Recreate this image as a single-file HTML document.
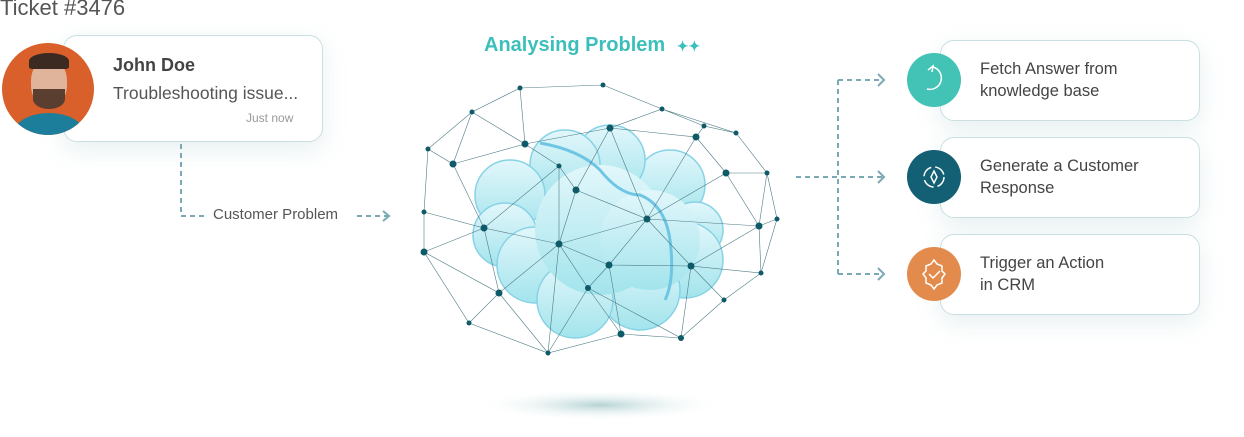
<!DOCTYPE html>
<html><head><meta charset="utf-8"><style>
body{margin:0;width:1244px;height:437px;background:#fff;font-family:"Liberation Sans",sans-serif;position:relative;overflow:hidden}
.t{position:absolute;white-space:nowrap}
.card{position:absolute;background:#fff;border:1px solid #c9dfe2;border-radius:14px;box-shadow:0 8px 24px rgba(120,170,175,.18)}
.ic{position:absolute;width:54px;height:54px;border-radius:50%}
</style></head><body>
<div class="t" style="left:0;top:-5px;font-size:22px;color:#555">Ticket #3476</div>
<div class="card" style="left:63px;top:35px;width:258px;height:105px"></div>
<div style="position:absolute;left:2px;top:43px;width:92px;height:92px;border-radius:50%;background:#d95f2b;overflow:hidden">
 <div style="position:absolute;left:12px;top:70px;width:70px;height:40px;border-radius:50%;background:#1c7e9a"></div>
 <div style="position:absolute;left:29px;top:16px;width:36px;height:48px;border-radius:45%;background:#e0b49a"></div>
 <div style="position:absolute;left:27px;top:10px;width:40px;height:16px;border-radius:50% 50% 10% 10%;background:#3b2a22"></div>
 <div style="position:absolute;left:31px;top:46px;width:32px;height:20px;border-radius:0 0 50% 50%;background:#5a3f30"></div>
</div>
<div class="t" style="left:113px;top:55px;font-size:18px;color:#444;font-weight:bold">John Doe</div>
<div class="t" style="left:113px;top:83px;font-size:17.5px;color:#555">Troubleshooting issue...</div>
<div class="t" style="left:246px;top:111px;font-size:12px;color:#999">Just now</div>
<div class="t" style="left:213px;top:206px;font-size:15px;color:#555">Customer Problem</div>
<div class="t" style="left:484px;top:34px;font-size:20px;color:#3cbfbb;font-weight:bold">Analysing Problem <span style="font-size:14px;margin-left:6px">✦✦</span></div>

<div class="card" style="left:940px;top:40px;width:258px;height:79px"></div>
<div class="card" style="left:940px;top:137px;width:258px;height:79px"></div>
<div class="card" style="left:940px;top:234px;width:258px;height:79px"></div>
<div class="ic" style="left:907px;top:53px;background:#42c3b5"></div>
<div class="ic" style="left:907px;top:150px;background:#135f73"></div>
<div class="ic" style="left:907px;top:247px;background:#e38b4c"></div>
<div class="t" style="left:980px;top:58px;font-size:16.5px;color:#444;line-height:22px">Fetch Answer from<br>knowledge base</div>
<div class="t" style="left:980px;top:155px;font-size:16.5px;color:#444;line-height:22px">Generate a Customer<br>Response</div>
<div class="t" style="left:980px;top:252px;font-size:16.5px;color:#444;line-height:22px">Trigger an Action<br>in CRM</div>

<svg width="1244" height="437" style="position:absolute;left:0;top:0">
<defs><radialGradient id="sh"><stop offset="0" stop-color="#b5d3d4"/><stop offset="1" stop-color="#fff" stop-opacity="0"/></radialGradient>
<linearGradient id="cl" x1="0" y1="0" x2="0" y2="1"><stop offset="0" stop-color="#e2f7fb"/><stop offset="1" stop-color="#a3e4ec"/></linearGradient></defs>
<ellipse cx="600" cy="405" rx="125" ry="16" fill="url(#sh)"/>
<g fill="none" stroke="#7aa9b3" stroke-width="2" stroke-dasharray="5,4">
<path d="M181 144 V216 H205"/><path d="M357 216 H388"/><path d="M383 211 l6 5 -6 5" stroke-dasharray="none"/>
<path d="M796 177 H882"/><path d="M838 80 V274"/><path d="M838 80 H882"/><path d="M838 274 H882"/>
<path d="M878 74 l6 6 -6 6 M878 171 l6 6 -6 6 M878 268 l6 6 -6 6" stroke-dasharray="none"/>
</g>
<g fill="url(#cl)" stroke="#86d2e6" stroke-width="1.5">
<circle cx="670" cy="185" r="35"/><circle cx="695" cy="230" r="28"/><circle cx="685" cy="260" r="38"/><circle cx="640" cy="290" r="40"/>
<circle cx="610" cy="160" r="35"/><circle cx="565" cy="165" r="35"/>
<circle cx="510" cy="195" r="35"/><circle cx="505" cy="235" r="32"/><circle cx="535" cy="265" r="38"/><circle cx="575" cy="300" r="38"/>
<circle cx="600" cy="230" r="65" stroke="none"/><circle cx="650" cy="240" r="50" stroke="none"/>
</g>
<g fill="none" stroke="#6ec6e4" stroke-width="3">
<path d="M540 143 Q580 150 600 170 Q620 195 640 195 Q665 205 670 240 Q675 280 665 300"/>
</g>
<g fill="none" stroke="#4d7b86" stroke-width=".6">
<path d="M520 88L603 85L662 109L736 133L767 173L777 219L761 273L724 300L681 338L621 334L548 353L469 323L424 252L424 212L428 149L472 112L520 88
M520 88L525 144L472 112M472 112L453 164L428 149M453 164L525 144L610 128L662 109L704 126L736 133M610 128L696 137L704 126M696 137L726 173L767 173M525 144L559 166L576 190L610 128
M453 164L484 228L424 212M424 252L484 228L559 166M484 228L559 244L647 219L576 190L559 244M559 166L559 244M610 128L647 219L696 137M647 219L759 226L777 219M726 173L759 226L767 173M647 219L726 173
M759 226L761 273L691 266L759 226M647 219L691 266L609 265L559 244M647 219L609 265L588 288L559 244L499 293L484 228M424 252L499 293L469 323M499 293L548 353L559 244
M588 288L548 353M588 288L621 334L609 265M588 288L681 338L691 266L724 300M691 266L681 338M424 212L428 149"/>
</g>
<g fill="#0f5a68">
<circle cx="520" cy="88" r="2.5"/><circle cx="603" cy="85" r="2.5"/><circle cx="472" cy="112" r="2.5"/><circle cx="662" cy="109" r="2.5"/><circle cx="704" cy="126" r="2.5"/><circle cx="736" cy="133" r="2.5"/><circle cx="428" cy="149" r="2.5"/><circle cx="453" cy="164" r="3.5"/><circle cx="525" cy="144" r="3.5"/><circle cx="610" cy="128" r="3.5"/><circle cx="696" cy="137" r="3.5"/><circle cx="726" cy="173" r="3.5"/><circle cx="767" cy="173" r="2.5"/><circle cx="559" cy="166" r="2.5"/><circle cx="576" cy="190" r="3.5"/><circle cx="647" cy="219" r="3.5"/><circle cx="759" cy="226" r="3.5"/><circle cx="777" cy="219" r="2.5"/><circle cx="424" cy="212" r="2.5"/><circle cx="484" cy="228" r="3.5"/><circle cx="559" cy="244" r="3.5"/><circle cx="609" cy="265" r="3.5"/><circle cx="691" cy="266" r="3.5"/><circle cx="761" cy="273" r="2.5"/><circle cx="424" cy="252" r="3.5"/><circle cx="499" cy="293" r="3.5"/><circle cx="588" cy="288" r="3"/><circle cx="724" cy="300" r="2.5"/><circle cx="621" cy="334" r="3.5"/><circle cx="681" cy="338" r="3"/><circle cx="548" cy="353" r="2.5"/><circle cx="469" cy="323" r="2.5"/>
</g>
<g fill="none" stroke="#fff" stroke-width="1.5">
<path d="M928 70 l5 -4 -1 6 M933 67 a10 10 0 1 1 -6 22"/>
<circle cx="934" cy="177" r="10" stroke-dasharray="12,4"/><path d="M934 171 l3 6 -3 6 -3 -6z"/>
<path d="M926 266 l5 -2 3 -4 3 4 5 2 0 5 3 3 -3 4 0 5 -5 2 -3 4 -3 -4 -5 -2 0 -5 -3 -4 3 -3z M929 274 l4 4 7 -7"/>
</g>
</svg>
</body></html>
